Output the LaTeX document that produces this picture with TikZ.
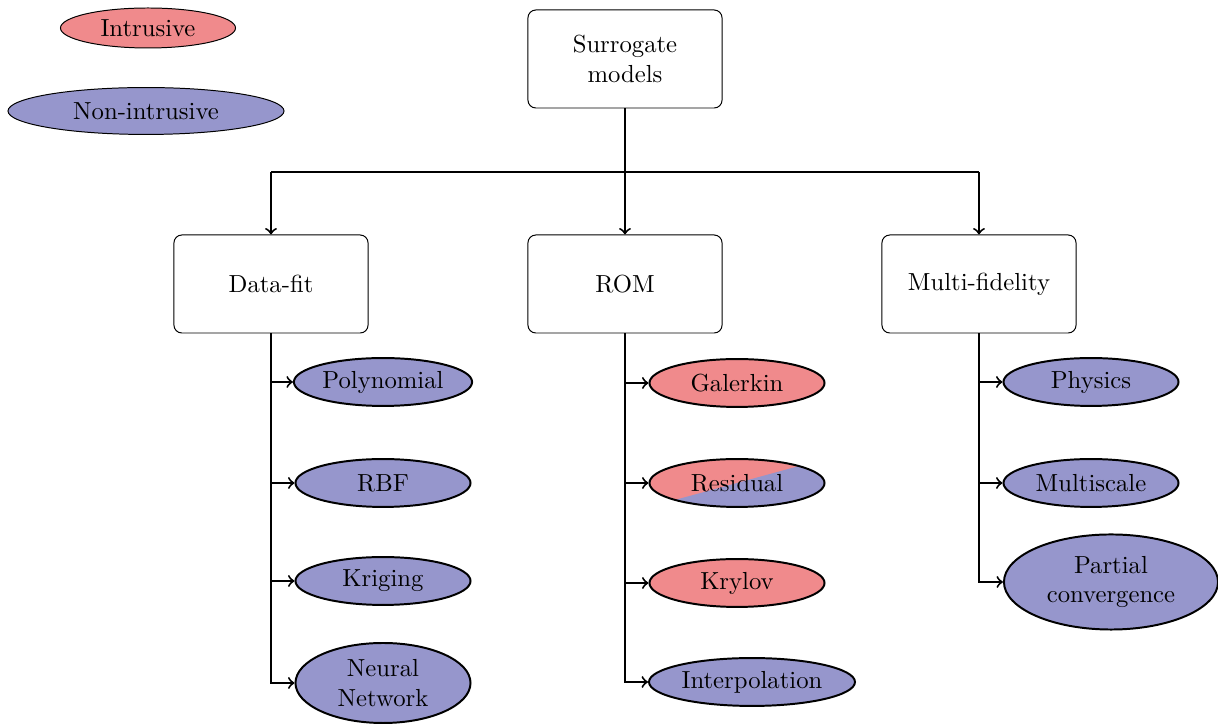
\documentclass[tikz,border=0pt]{standalone}
\usetikzlibrary{shapes.geometric}
\definecolor{intr}{RGB}{240,138,140}
\definecolor{nonin}{RGB}{150,150,204}
\begin{document}
\begin{tikzpicture}[x=0.405pt,y=-0.405pt,
  box/.style={draw, rounded corners=3.2pt, minimum width=78.6pt, minimum height=39.7pt, align=center, inner sep=2pt},
  leaf/.style={ellipse, draw, thick, minimum width=70.9pt, minimum height=19.4pt, inner sep=1pt, align=center},
  intrleaf/.style={leaf, fill=intr},
  ninleaf/.style={leaf, fill=nonin},
  conn/.style={thick, ->}
]
\useasboundingbox (0,0) rectangle (1218,724);

% legend
\node[ellipse, draw, fill=intr, minimum width=70.9pt, minimum height=16.2pt, inner sep=1pt] (legin) at (148,28) {Intrusive};
\node[ellipse, draw, fill=nonin, minimum width=111.8pt, minimum height=19pt, inner sep=1pt] (legnon) at (146,111) {Non-intrusive};

% main boxes
\node[box] (sm) at (625,59) {Surrogate\\models};
\node[box] (df) at (271,284) {Data-fit};
\node[box] (rom) at (625,284) {ROM};
\node[box] (mf) at (979,284) {Multi-fidelity};
\coordinate (bar) at (625,172);

% data-fit leaves
\node[ninleaf] (poly) at (383,382) {Polynomial};
\node[ninleaf] (rbf) at (383,483) {RBF};
\node[ninleaf] (krig) at (383,581) {Kriging};
\node[ninleaf, minimum height=32.4pt] (nn) at (383,683) {Neural\\Network};

% ROM leaves
\node[intrleaf] (gal) at (737,383) {Galerkin};
\node[leaf, fill=intr, path picture={\fill[nonin] (path picture bounding box.south west) -- (path picture bounding box.south east) -- (path picture bounding box.north east) -- cycle;}] (res) at (737,483) {Residual};
\node[intrleaf] (kry) at (737,583) {Krylov};
\node[ninleaf, minimum width=83pt] (interp) at (752,682) {Interpolation};

% multi-fidelity leaves
\node[ninleaf] (phys) at (1091,382) {Physics};
\node[ninleaf] (msc) at (1091,483) {Multiscale};
\node[ninleaf, minimum width=86.7pt, minimum height=38.5pt] (pc) at (1111,582) {Partial\\convergence};

% top connectors
\draw[conn] (sm.south) -- (rom.north);
\draw[thick] (bar) -- (bar -| df.north);
\draw[thick] (bar) -- (bar -| mf.north);
\draw[conn] (bar -| df.north) -- (df.north);
\draw[conn] (bar -| mf.north) -- (mf.north);

% data-fit branches
\draw[conn] (df.south) |- (nn.west);
\draw[conn] (df.south |- poly.west) -- (poly.west);
\draw[conn] (df.south |- rbf.west) -- (rbf.west);
\draw[conn] (df.south |- krig.west) -- (krig.west);

% ROM branches
\draw[conn] (rom.south) |- (interp.west);
\draw[conn] (rom.south |- gal.west) -- (gal.west);
\draw[conn] (rom.south |- res.west) -- (res.west);
\draw[conn] (rom.south |- kry.west) -- (kry.west);

% multi-fidelity branches
\draw[conn] (mf.south) |- (pc.west);
\draw[conn] (mf.south |- phys.west) -- (phys.west);
\draw[conn] (mf.south |- msc.west) -- (msc.west);
\end{tikzpicture}
\end{document}
